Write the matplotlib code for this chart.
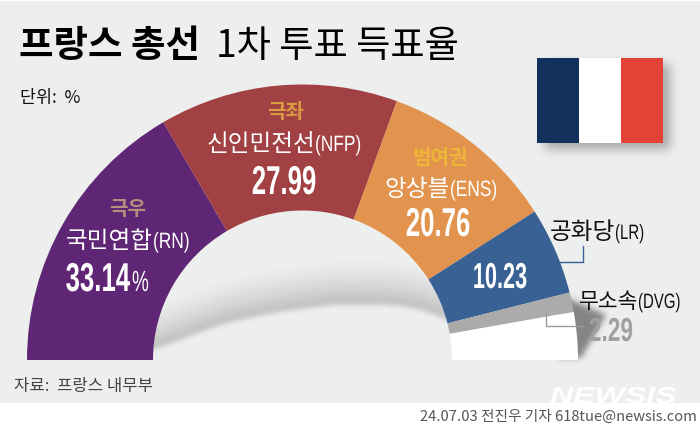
import matplotlib

matplotlib.use("Agg")
import numpy as np
from matplotlib import pyplot as plt
from matplotlib.patches import Rectangle, Wedge
from matplotlib.patheffects import AbstractPathEffect
from matplotlib.transforms import Affine2D

KR = "Noto Sans CJK KR"
LAT = "Liberation Sans"
plt.rcParams["font.family"] = [KR, "DejaVu Sans"]

parties = ["국민연합", "신인민전선", "앙상블", "공화당", "무소속", "기타"]
codes = ["RN", "NFP", "ENS", "LR", "DVG", ""]
shares = [33.14, 27.99, 20.76, 10.23, 2.29, 5.59]
blocs = ["극우", "극좌", "범여권"]
colors = ["#5f2675", "#a24144", "#e2934e", "#3a6194", "#ababab", "#ffffff"]

# where the soft edge of the arch shadow runs (x, y in pixels)
shadow_x = [153, 190, 223, 273, 340, 407, 440, 455]
shadow_y = [350, 335, 323, 312, 303, 305, 315, 325]

BG = "#edeeee"
CX, CY, R_OUT, R_IN = 302.5, 360, 275.5, 149.5


class Squeeze(AbstractPathEffect):
    """Narrow a text sideways around x0, the fonts here have no condensed cut."""

    def __init__(self, x0, sx):
        super().__init__()
        self.tr = Affine2D().translate(-x0, 0).scale(sx, 1).translate(x0, 0)

    def draw_path(self, renderer, gc, tpath, affine, rgbFace=None):
        renderer.draw_path(gc, tpath, affine + self.tr, rgbFace)


def gauss(s):
    k = np.exp(-0.5 * (np.arange(-3 * s, 3 * s + 1) / s) ** 2)
    return k / k.sum()


def blur(a, s):
    # gaussian blur, rows then columns
    k = gauss(s)
    a = np.apply_along_axis(lambda r: np.convolve(r, k, mode="same"), 0, a)
    return np.apply_along_axis(lambda r: np.convolve(r, k, mode="same"), 1, a)


def shade(ax, alpha, zorder):
    rgba = np.zeros(alpha.shape + (4,))
    rgba[..., :3] = 0.25
    rgba[..., 3] = alpha
    ax.imshow(rgba, extent=(0, 700, 426, 0), zorder=zorder, interpolation="bilinear", aspect="auto")


fig = plt.figure(figsize=(7, 4.26), dpi=100, facecolor="white")
ax = fig.add_axes([0, 0, 1, 1])

ax.add_patch(Rectangle((0, 1), 700, 402, fc=BG, ec="none", zorder=0))

# soft shadows: under the arch, beside the white slice, behind the flag
yy, xx = np.mgrid[0:426, 0:700] + 0.5
col_x = xx[0]
edge = np.interp(col_x, shadow_x, shadow_y)
pad = np.pad(edge, 60, mode="edge")
edge = np.convolve(pad, gauss(12), mode="same")[60:-60]
d = edge[None, :] - yy
arch = np.clip(1 - d / 46, 0, 1) ** 1.4 * 0.28 * (d > 0)
arch = blur(arch, 2.5)
arch[(xx - CX) ** 2 + (yy - CY) ** 2 >= R_IN ** 2] = 0
shade(ax, arch, 1)

side = np.zeros(yy.shape)
side[(xx > 560) & (xx < 606 - (yy - 315) * 26 / 45) & (yy > 300 + (xx - 572) * 15 / 34) & (yy < 358)] = 0.6
shade(ax, blur(side, 3), 1)

flag_sh = np.zeros(yy.shape)
flag_sh[(xx > 545) & (xx < 670) & (yy > 64) & (yy < 149)] = 0.4
shade(ax, blur(flag_sh, 5), 1)

# half doughnut, 100% = 180 degrees (y axis is inverted, so angles run over the top)
edges = 180 + np.cumsum([0] + shares) / sum(shares) * 180
for a0, a1, c in zip(edges[:-1], edges[1:], colors):
    ax.add_patch(Wedge((CX, CY), R_OUT, a0, a1, width=R_OUT - R_IN, fc=c, ec="none", zorder=2))

# flag
for x0, c in zip([537, 579, 621], ["#12305c", "#ffffff", "#e34336"]):
    ax.add_patch(Rectangle((x0, 58), 42.3, 84.5, fc=c, ec="none", zorder=3))

# title
ax.text(19, 57, "프랑스 총선", fontsize=27, fontweight="bold", color="black", va="baseline", zorder=5)
ax.text(216, 57, "1차 투표 득표율", fontsize=26.8, color="black", va="baseline", zorder=5)
ax.text(20, 103, "단위:  %", fontsize=12.5, color="#111111", va="baseline", zorder=5)
ax.text(14, 391, "자료:  프랑스 내무부", fontsize=12, color="#444444", va="baseline", zorder=5)


def label(cx, y, name, code, size=17, col="white", sub=16, sx=0.78):
    ax.text(cx, y, name, fontsize=size, color=col, ha="right", va="baseline", zorder=5)
    ax.text(cx, y, f"({code})", fontsize=sub, color=col, ha="left", va="baseline", family=LAT,
            path_effects=[Squeeze(cx, sx)], zorder=5)


def value(x, y, s, size=29, col="white", sx=0.64, ha="center"):
    ax.text(x, y, s, fontsize=size, color=col, ha=ha, va="baseline", fontweight="bold", family=LAT,
            path_effects=[Squeeze(x, sx)], zorder=5)


def bloc(x, y, s, col):
    ax.text(x, y, s, fontsize=14.5, fontweight="bold", color=col, ha="center", va="baseline", zorder=5)


# RN
bloc(128, 215, blocs[0], "#b48f7e")
label(153, 248, parties[0], codes[0])
value(130, 291, f"{shares[0]:.2f}", ha="right")
ax.text(132, 291, "%", fontsize=21, color="white", family=LAT, va="baseline",
        path_effects=[Squeeze(132, 0.65)], zorder=5)

# NFP
bloc(286, 118, blocs[1], "#d99a42")
label(315, 151, parties[1], codes[1])
value(284, 194, f"{shares[1]:.2f}")

# ENS
bloc(440, 164, blocs[2], "#edb53a")
label(450, 196, parties[2], codes[2])
value(438, 236, f"{shares[2]:.2f}")

# LR, DVG sit on the slice or outside it
value(500, 288, f"{shares[3]:.2f}", size=26, sx=0.6)
label(615, 239, parties[3], codes[3], col="#111111", sub=15, sx=0.72)
label(638, 308, parties[4], codes[4], size=15.5, col="#111111", sub=15, sx=0.72)
value(611, 341, f"{shares[4]:.2f}", size=24, col="#a0a0a0", sx=0.68)

# leader lines
ax.plot([583, 583, 560], [246, 262, 262], color="#3a6194", lw=1, zorder=4)
ax.plot([546, 546, 582], [313, 326, 326], color="#9a9a9a", lw=1, zorder=4)

# footer
ax.text(697, 421, "24.07.03 전진우 기자 618tue@newsis.com", fontsize=10.6, color="#555555",
        ha="right", va="baseline", zorder=5)
ax.text(550, 403, "NEWSIS", fontsize=16.5, fontweight="bold", style="italic", color="white",
        family=LAT, va="baseline", path_effects=[Squeeze(550, 1.4)], zorder=4)

ax.set_xlim(0, 700)
ax.set_ylim(426, 0)
ax.axis("off")
fig.savefig("out.png", dpi=100, facecolor="white")
